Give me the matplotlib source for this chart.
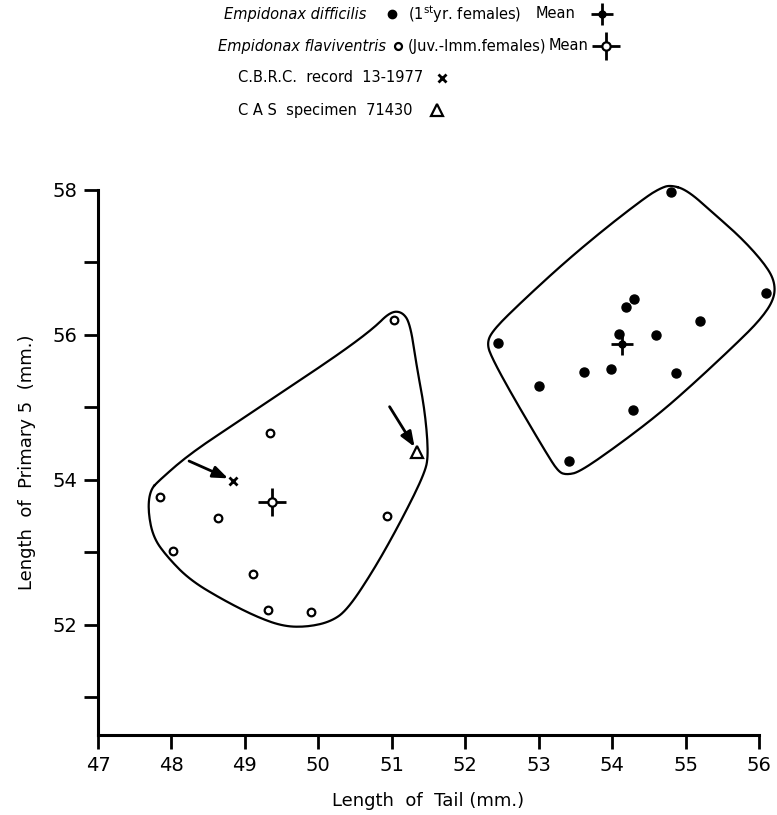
import matplotlib.pyplot as plt
import numpy as np

plt.rcParams['font.family'] = ['DejaVu Sans']

# Empidonax difficilis (1st yr. females): tail length, primary 5 length (mm)
dif_tail = [54.80, 56.09, 54.30, 54.19, 55.20, 54.09, 54.60, 52.45, 53.62, 53.99, 53.00, 54.87, 54.29, 53.41]
dif_p5 = [57.97, 56.58, 56.50, 56.39, 56.19, 56.01, 56.00, 55.89, 55.49, 55.53, 55.29, 55.47, 54.97, 54.26]
dif_mean = (54.14, 55.87)

# Empidonax flaviventris (Juv.-Imm. females)
fla_tail = [51.03, 49.34, 47.84, 48.63, 50.93, 48.02, 49.11, 49.31, 49.90]
fla_p5 = [56.20, 54.65, 53.76, 53.48, 53.50, 53.02, 52.70, 52.20, 52.18]
fla_mean = (49.37, 53.69)

cbrc = (48.84, 53.99)   # C.B.R.C. record 13-1977
cas = (51.35, 54.39)    # CAS specimen 71430

# hand drawn envelopes round each group
dif_hull_x = [54.79, 55.02, 55.38, 55.79, 56.11, 56.22, 56.20, 56.01, 55.65, 55.11, 54.65, 54.11, 53.56,
              53.38, 53.27, 53.11, 52.65, 52.38, 52.29, 52.38, 52.75, 53.34, 53.93, 54.47, 54.65]
dif_hull_y = [58.07, 58.00, 57.68, 57.31, 56.94, 56.71, 56.48, 56.20, 55.84, 55.33, 54.92, 54.50, 54.11,
              54.07, 54.11, 54.36, 55.15, 55.65, 55.88, 56.07, 56.44, 56.99, 57.49, 57.91, 58.02]
fla_hull_x = [47.71, 47.84, 48.25, 48.93, 49.61, 50.30, 50.75, 50.98, 51.14, 51.25, 51.34, 51.45, 51.50,
              51.45, 51.11, 50.75, 50.39, 50.16, 49.84, 49.52, 49.16, 48.71, 48.25, 47.94, 47.75, 47.68]
fla_hull_y = [53.86, 54.00, 54.36, 54.82, 55.28, 55.75, 56.09, 56.32, 56.32, 56.16, 55.56, 54.96, 54.36,
              54.09, 53.40, 52.75, 52.20, 52.04, 51.97, 51.98, 52.11, 52.34, 52.62, 52.94, 53.21, 53.58]

xticks = list(range(47, 57))
yticks = list(range(51, 59))
ylabels = ['', '52', '', '54', '', '56', '', '58']


def chaikin(x, y, n=3):
    # closed-curve corner cutting so the outline looks drawn by hand
    p = np.column_stack([x, y])
    for _ in range(n):
        q = np.roll(p, -1, axis=0)
        a = 0.75*p + 0.25*q
        b = 0.25*p + 0.75*q
        p = np.column_stack([a, b]).reshape(-1, 2)
    p = np.vstack([p, p[:1]])
    return p[:, 0], p[:, 1]


fig = plt.figure(figsize=(7.77, 8.15), dpi=100)
ax = fig.add_axes([98/777, 80/815, 661/777, 545/815])

for hx, hy in [(dif_hull_x, dif_hull_y), (fla_hull_x, fla_hull_y)]:
    sx, sy = chaikin(hx, hy)
    ax.plot(sx, sy, c='k', lw=1.6, clip_on=False)

ax.plot(dif_tail, dif_p5, 'o', ms=6.5, c='k', clip_on=False)
ax.plot(fla_tail, fla_p5, 'o', ms=5.5, mfc='white', mec='k', mew=1.6)
ax.plot(*dif_mean, '+', ms=16, mew=2, c='k')
ax.plot(*dif_mean, 'o', ms=5, c='k')
ax.plot(*fla_mean, '+', ms=20, mew=2, c='k')
ax.plot(*fla_mean, 'o', ms=6, mfc='white', mec='k', mew=1.6)
ax.plot(*cbrc, 'x', ms=6, mew=2, c='k')
ax.plot(*cas, '^', ms=8, mfc='white', mec='k', mew=1.6)

arrow = dict(arrowstyle='-|>,head_length=0.9,head_width=0.35', lw=2, color='k', shrinkA=0, shrinkB=4)
ax.annotate('', xy=cbrc, xytext=(cbrc[0] - 0.6, cbrc[1] + 0.27), arrowprops=arrow)
ax.annotate('', xy=cas, xytext=(cas[0] - 0.38, cas[1] + 0.62), arrowprops=arrow)

ax.set_xlim(47, 56)
ax.set_ylim(50.48, 58)
ax.set_xticks(xticks)
ax.set_xticklabels([str(t) for t in xticks])
ax.set_yticks(yticks)
ax.set_yticklabels(ylabels)
for s in ['top', 'right']:
    ax.spines[s].set_visible(False)
for s in ['left', 'bottom']:
    ax.spines[s].set_linewidth(2.2)
ax.tick_params(direction='out', length=10, width=2, labelsize=14, pad=5)
ax.set_xlabel('Length  of  Tail (mm.)', fontsize=13, labelpad=12)
ax.set_ylabel('Length  of  Primary 5  (mm.)', fontsize=13, labelpad=12)

# legend block at the top, in pixel coordinates
leg = fig.add_axes([0, 0, 1, 1], zorder=-1)
leg.set_xlim(0, 777)
leg.set_ylim(815, 0)
leg.axis('off')
fs = 10.5
leg.text(224, 14, 'Empidonax difficilis', style='italic', fontsize=fs, va='center')
leg.plot(392, 14, 'o', ms=6, c='k')
leg.text(408, 14, r'(1$^{\rm st}$yr. females)', fontsize=fs, va='center')
leg.text(536, 14, 'Mean', fontsize=fs, va='center')
leg.plot(602, 14, '+', ms=16, mew=2, c='k')
leg.plot(602, 14, 'o', ms=5, c='k')
leg.text(218, 46, 'Empidonax flaviventris', style='italic', fontsize=fs, va='center')
leg.plot(398, 46, 'o', ms=5, mfc='white', mec='k', mew=1.6)
leg.text(408, 46, '(Juv.-Imm.females)', fontsize=fs, va='center')
leg.text(549, 46, 'Mean', fontsize=fs, va='center')
leg.plot(606, 46, '+', ms=20, mew=2, c='k')
leg.plot(606, 46, 'o', ms=6, mfc='white', mec='k', mew=1.6)
leg.text(238, 78, 'C.B.R.C.  record  13-1977', fontsize=fs, va='center')
leg.plot(442, 78, 'x', ms=6, mew=2, c='k')
leg.text(238, 110, 'C A S  specimen  71430', fontsize=fs, va='center')
leg.plot(437, 110, '^', ms=8, mfc='white', mec='k', mew=1.6)

plt.savefig('out.png', dpi=100)
